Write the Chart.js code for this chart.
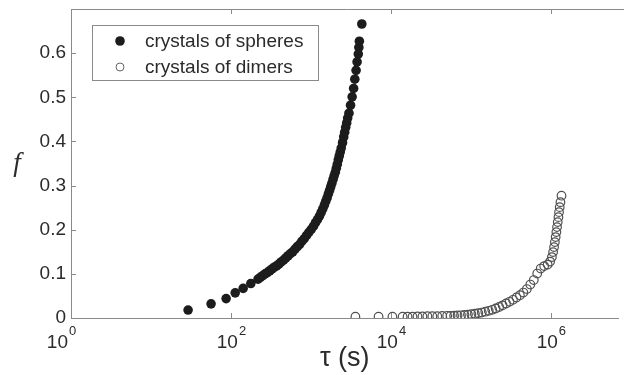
<!DOCTYPE html>
<html>
<head>
<meta charset="utf-8">
<script src="https://cdn.jsdelivr.net/npm/chart.js@4.4.1/dist/chart.umd.min.js"></script>
<style>
  html, body { margin: 0; padding: 0; background: #fff; }
</style>
</head>
<body>
<canvas id="grafico" width="624" height="375"></canvas>
<script>
// Tempo (s) e fracao f dos cristais de esferas
const tauEsferas = [29.1, 56.4, 87, 113, 142, 177, 218, 233, 250, 267, 285, 305, 325, 347, 372, 397, 424, 454, 485, 518,
  554, 592, 632, 677, 723, 772, 826, 882, 942, 1009, 1077, 1140, 1207, 1278, 1341, 1404, 1473, 1529, 1591, 1651,
  1709, 1764, 1825, 1888, 1949, 2016, 2074, 2134, 2196, 2259, 2324, 2391, 2482, 2568, 2642, 2719, 2798, 2879,
  2988, 3126, 3272, 3415, 3534, 3668, 3774, 3906, 3972, 4030, 4326];
const fEsferas = [0.018, 0.032, 0.044, 0.057, 0.067, 0.078, 0.088, 0.092, 0.096, 0.100, 0.103, 0.107, 0.111, 0.115, 0.118, 0.122, 0.127, 0.131, 0.136, 0.141,
  0.146, 0.150, 0.156, 0.162, 0.167, 0.174, 0.180, 0.187, 0.194, 0.201, 0.208, 0.216, 0.223, 0.231, 0.239, 0.247, 0.256, 0.264, 0.272, 0.281,
  0.289, 0.297, 0.305, 0.314, 0.322, 0.330, 0.339, 0.348, 0.358, 0.367, 0.376, 0.385, 0.397, 0.410, 0.421, 0.432, 0.442, 0.453,
  0.464, 0.482, 0.501, 0.520, 0.541, 0.561, 0.580, 0.598, 0.613, 0.627, 0.666];

// Tempo (s) e fracao f dos cristais de dimeros
const tauDimeros = [3595, 7003, 10437, 13996, 16140, 18615, 21470, 24760, 28540, 32910, 37950, 43770, 50470, 55760,
  61600, 68060, 75190, 83090, 91820, 101400, 112100, 123800, 136800, 151200, 167100, 184600, 203900, 225300,
  248900, 275000, 303900, 335800, 371000, 409900, 452800, 500400, 552800, 610800, 674900, 745600, 823800, 910500,
  977500, 1029000, 1065000, 1095000, 1121000, 1147000, 1170000, 1193000, 1217000, 1242000, 1263000, 1289000, 1315000, 1357000];
const fDimeros = [0.003, 0.003, 0.003, 0.003, 0.003, 0.003, 0.0035, 0.0035, 0.004, 0.004, 0.004, 0.0045, 0.005, 0.005,
  0.0052, 0.0057, 0.0061, 0.0068, 0.0077, 0.0086, 0.0097, 0.011, 0.0124, 0.0143, 0.0163, 0.0186, 0.0215, 0.0249,
  0.0287, 0.0328, 0.0367, 0.0412, 0.0464, 0.0516, 0.0577, 0.0656, 0.0758, 0.086, 0.1007, 0.112, 0.1176, 0.121,
  0.1278, 0.138, 0.1493, 0.1606, 0.1719, 0.1833, 0.1946, 0.2059, 0.2172, 0.2285, 0.2398, 0.2511, 0.2624, 0.2771];

const ticksX = [1, 100, 10000, 1000000]; // 10^0, 10^2, 10^4, 10^6
const expoentesX = ['0', '2', '4', '6'];
const ticksY = [0, 0.1, 0.2, 0.3, 0.4, 0.5, 0.6];
const rotulos = ['crystals of spheres', 'crystals of dimers'];

const corEixo = '#8a8a8a';
const corTexto = '#2b2b2b';
const fonte = '"Liberation Sans", Arial, sans-serif';

const pontos = (xs, ys) => xs.map((t, i) => ({ x: t, y: ys[i] }));

// zera os paddings automaticos das escalas para a area do grafico ficar onde queremos
const semPadding = s => { s.paddingTop = 0; s.paddingBottom = 0; s.paddingLeft = 0; s.paddingRight = 0; };

// Desenha moldura, marcas internas, rotulos do eixo x, o "f" e a legenda
const extras = {
  id: 'extras',
  afterDraw(chart) {
    const { ctx, chartArea: a, scales: { x, y } } = chart;
    const linha = (x1, y1, x2, y2) => { ctx.beginPath(); ctx.moveTo(x1, y1); ctx.lineTo(x2, y2); ctx.stroke(); };
    ctx.save();
    ctx.strokeStyle = corEixo;
    ctx.lineWidth = 1;
    linha(a.left, a.top + 0.5, chart.width, a.top + 0.5);
    ticksX.slice(1).forEach(v => {
      const px = Math.round(x.getPixelForValue(v)) + 0.5;
      linha(px, a.bottom, px, a.bottom - 5);
      linha(px, a.top, px, a.top + 5);
    });
    ticksY.slice(1).forEach(v => {
      const py = Math.round(y.getPixelForValue(v)) + 0.5;
      linha(a.left, py, a.left + 5, py);
    });

    // rotulos 10^n
    ctx.fillStyle = corTexto;
    ctx.textBaseline = 'alphabetic';
    ticksX.forEach((v, i) => {
      const px = x.getPixelForValue(v);
      ctx.font = '19px ' + fonte;
      const wBase = ctx.measureText('10').width;
      ctx.font = '13px ' + fonte;
      const wExp = ctx.measureText(expoentesX[i]).width;
      const x0 = px - (wBase + wExp) / 2 + (i === 0 ? -10 : 0);
      ctx.font = '19px ' + fonte;
      ctx.textAlign = 'left';
      ctx.fillText('10', x0, a.bottom + 30);
      ctx.font = '13px ' + fonte;
      ctx.fillText(expoentesX[i], x0 + wBase + 1, a.bottom + 17);
    });

    // titulo do eixo y
    ctx.font = 'italic 27px "Liberation Serif", "DejaVu Serif", serif';
    ctx.textAlign = 'center';
    ctx.textBaseline = 'middle';
    ctx.fillText('f', 17, (a.top + a.bottom) / 2);

    // legenda
    const lx = a.left + 21, ly = a.top + 16, lw = 226, lh = 55;
    ctx.fillStyle = '#fff';
    ctx.fillRect(lx, ly, lw, lh);
    ctx.strokeRect(lx + 0.5, ly + 0.5, lw, lh);
    rotulos.forEach((r, i) => {
      const cy = ly + 16 + i * 26;
      ctx.beginPath();
      ctx.arc(lx + 28, cy, i === 0 ? 4.8 : 4, 0, Math.PI * 2);
      if (i === 0) { ctx.fillStyle = '#1c1c1c'; ctx.fill(); }
      else { ctx.strokeStyle = '#666'; ctx.stroke(); }
      ctx.fillStyle = corTexto;
      ctx.font = '19px ' + fonte;
      ctx.textAlign = 'left';
      ctx.fillText(r, lx + 53, cy + 1);
    });
    ctx.restore();
  }
};

const ctx = document.getElementById('grafico').getContext('2d');

const grafico = new Chart(ctx, {
  type: 'scatter',
  data: {
    datasets: [{
      label: rotulos[0],
      data: pontos(tauEsferas, fEsferas),
      backgroundColor: '#1c1c1c',
      borderWidth: 0,
      pointRadius: 4.8
    }, {
      label: rotulos[1],
      data: pontos(tauDimeros, fDimeros),
      backgroundColor: 'rgba(0,0,0,0)',
      borderColor: '#505050',
      borderWidth: 1.2,
      pointRadius: 4.3
    }]
  },
  options: {
    responsive: false,
    animation: false,
    layout: { padding: { top: 9, right: 1, left: 0, bottom: 0 } },
    scales: {
      x: {
        type: 'logarithmic',
        min: 1,
        max: 7e6,
        grid: { display: false, drawTicks: false },
        border: { display: true, color: corEixo },
        afterBuildTicks: s => { s.ticks = ticksX.map(v => ({ value: v })); },
        ticks: { display: false },
        title: { display: true, text: 'τ (s)', color: corTexto, font: { family: fonte, size: 27 }, padding: 0 },
        afterFit: s => { s.height = 57; semPadding(s); }
      },
      y: {
        min: 0,
        max: 0.7,
        grid: { display: false, drawTicks: false },
        border: { display: true, color: corEixo },
        afterBuildTicks: s => { s.ticks = ticksY.map(v => ({ value: v })); },
        ticks: {
          color: corTexto,
          padding: 5,
          font: { family: fonte, size: 19 },
          callback: v => String(Math.round(v * 10) / 10)
        },
        afterFit: s => { s.width = 71; semPadding(s); }
      }
    },
    plugins: { legend: { display: false }, tooltip: { enabled: false } }
  },
  plugins: [extras]
});
</script>
</body>
</html>
